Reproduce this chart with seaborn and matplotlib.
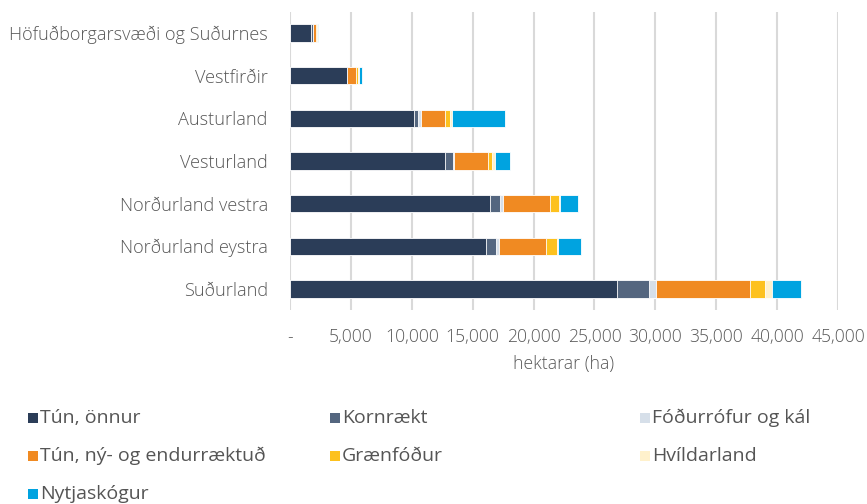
import matplotlib
matplotlib.use("Agg")
import matplotlib.pyplot as plt
from matplotlib.patches import Rectangle
from matplotlib.ticker import FuncFormatter, MultipleLocator
import numpy as np
import pandas as pd
import seaborn as sns

regions = ["Höfuðborgarsvæði og Suðurnes", "Vestfirðir", "Austurland", "Vesturland",
           "Norðurland vestra", "Norðurland eystra", "Suðurland"]

series_names = ["Tún, önnur", "Kornrækt", "Fóðurrófur og kál",
                "Tún, ný- og endurræktuð", "Grænfóður", "Hvíldarland", "Nytjaskógur"]

tun_onnur      = [1720, 4700, 10200, 12750, 16450, 16120, 26850]
kornraekt      = [150, 0, 350, 600, 820, 770, 2650]
fodurrofur     = [0, 0, 190, 110, 190, 250, 550]
tun_endur      = [300, 740, 2000, 2760, 3880, 3910, 7740]
graenfodur     = [60, 140, 410, 360, 710, 900, 1230]
hvildarland    = [0, 80, 140, 250, 140, 80, 600]
nytjaskogur    = [40, 270, 4350, 1230, 1500, 1890, 2330]

colors = ["#2B3D58", "#54667F", "#D6DFE9", "#F08A22", "#FDC11E", "#FFF1CC", "#00A3E0"]

values = [tun_onnur, kornraekt, fodurrofur, tun_endur, graenfodur, hvildarland, nytjaskogur]
df = pd.DataFrame(dict(zip(series_names, values)))
df.insert(0, "Landshluti", regions)
cum = df[series_names].cumsum(axis=1)

sns.set_theme(style="white")
plt.rcParams["font.family"] = ["Open Sans", "DejaVu Sans"]
text_color = "#585858"

fig = plt.figure(figsize=(8.67, 5.04), dpi=100)
ax = fig.add_axes([290 / 867, 1 - 310.3 / 504, (838 - 290) / 867, (310.3 - 11.7) / 504])

# stacked bars: draw cumulative totals from the outermost series inwards
for name, color in reversed(list(zip(series_names, colors))):
    sns.barplot(x=cum[name], y=df["Landshluti"], order=regions, orient="h",
                color=color, saturation=1, width=0.4, edgecolor="white",
                linewidth=0.6, ax=ax, zorder=3)

ax.set_xlim(0, 45000)
ax.set_ylim(6.5, -0.5)
ax.xaxis.set_major_locator(MultipleLocator(5000))
ax.xaxis.set_major_formatter(FuncFormatter(lambda v, p: "-" if v == 0 else f"{v:,.0f}"))
ax.grid(axis="x", color="#D9D9D9", linewidth=1.5, zorder=0)
ax.grid(axis="y", visible=False)
for s in ax.spines.values():
    s.set_visible(False)
ax.tick_params(axis="x", length=0, pad=13, labelsize=12.7, labelcolor=text_color)
ax.tick_params(axis="y", length=0, pad=16, labelsize=13.1, labelcolor=text_color)
for lbl in ax.get_xticklabels() + ax.get_yticklabels():
    lbl.set_fontweight("light")
ax.set_ylabel("")
ax.set_xlabel("hektarar (ha)", fontsize=12.7, color=text_color, labelpad=6,
              fontweight="light")

# legend laid out in three columns, filled row by row
col_x = [28, 330, 640]
row_y = [418, 456, 494]
sq = 10
for i, (name, color) in enumerate(zip(series_names, colors)):
    x = col_x[i % 3]
    y = row_y[i // 3]
    fig.add_artist(Rectangle((x / 867, 1 - (y + sq / 2) / 504), sq / 867, sq / 504,
                             transform=fig.transFigure, facecolor=color,
                             edgecolor="none"))
    fig.text((x + sq + 2) / 867, 1 - y / 504, name, fontsize=14.0, color="#555555",
             va="center", ha="left")

fig.savefig("out.png", dpi=100)
